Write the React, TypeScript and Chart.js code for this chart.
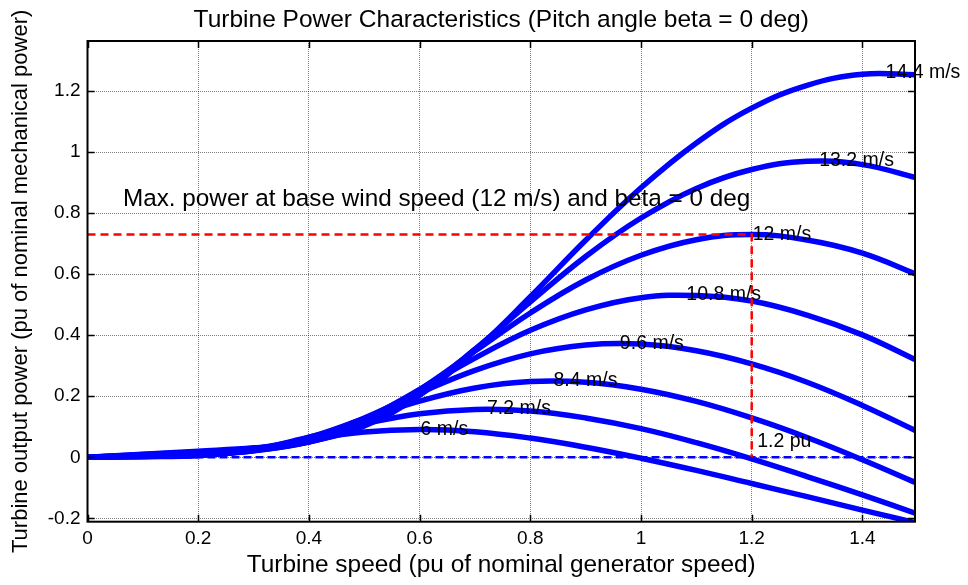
import React, { useEffect, useRef } from 'react';
import { Chart, registerables } from 'chart.js';

Chart.register(...registerables);

// Turbine speed (pu) sample points
const omega = [0, 0.1, 0.2, 0.3, 0.4, 0.5, 0.6, 0.7, 0.8, 0.9, 1.0, 1.1, 1.2, 1.3, 1.4, 1.5];

// Turbine output power (pu) per wind speed
const p6 = [0, 0.002, 0.006, 0.028, 0.059, 0.083, 0.091, 0.084, 0.063, 0.033, -0.003, -0.043, -0.086, -0.129, -0.173, -0.216];
const p7_2 = [0, 0.003, 0.006, 0.025, 0.066, 0.11, 0.143, 0.157, 0.152, 0.129, 0.094, 0.048, -0.005, -0.063, -0.123, -0.186];
const p8_4 = [0, 0.003, 0.008, 0.023, 0.065, 0.126, 0.184, 0.227, 0.248, 0.246, 0.223, 0.183, 0.129, 0.065, -0.008, -0.086];
const p9_6 = [0, 0.005, 0.009, 0.021, 0.06, 0.129, 0.211, 0.285, 0.339, 0.368, 0.371, 0.349, 0.306, 0.246, 0.17, 0.084];
const p10_8 = [0, 0.006, 0.011, 0.021, 0.055, 0.125, 0.222, 0.325, 0.416, 0.483, 0.523, 0.53, 0.512, 0.466, 0.401, 0.316];
const p12 = [0, 0.007, 0.014, 0.023, 0.051, 0.117, 0.222, 0.348, 0.473, 0.581, 0.662, 0.713, 0.73, 0.712, 0.669, 0.598];
const p13_2 = [0, 0.009, 0.017, 0.027, 0.05, 0.109, 0.214, 0.354, 0.509, 0.658, 0.784, 0.881, 0.943, 0.97, 0.959, 0.915];
const p14_4 = [0, 0.01, 0.02, 0.031, 0.051, 0.103, 0.203, 0.35, 0.526, 0.711, 0.883, 1.03, 1.144, 1.219, 1.255, 1.253];

const series = [p6, p7_2, p8_4, p9_6, p10_8, p12, p13_2, p14_4];
const speedLabels = ['6 m/s', '7.2 m/s', '8.4 m/s', '9.6 m/s', '10.8 m/s', '12 m/s', '13.2 m/s', '14.4 m/s'];
// label anchors (peak of each curve)
const labelX = [0.6, 0.72, 0.84, 0.96, 1.08, 1.2, 1.32, 1.44];
const labelY = [0.091, 0.158, 0.25, 0.374, 0.532, 0.73, 0.972, 1.261];

// Reference lines
const maxPowerX = [0, 1.2, 1.2];
const maxPowerY = [0.73, 0.73, 0];
const zeroX = [0, 1.5];
const zeroY = [0, 0];

// Axes
const xTicks = [0, 0.2, 0.4, 0.6, 0.8, 1.0, 1.2, 1.4];
const yTicks = [-0.2, 0, 0.2, 0.4, 0.6, 0.8, 1.0, 1.2];
const xMin = 0;
const xMax = 1.495;
const yMin = -0.211;
const yMax = 1.364;

const titleText = 'Turbine Power Characteristics (Pitch angle beta = 0 deg)';
const xTitle = 'Turbine speed (pu of nominal generator speed)';
const yTitle = 'Turbine output power (pu of nominal mechanical power)';
const maxText = 'Max. power at base wind speed (12 m/s) and beta = 0 deg';
const maxTextPos = [0.064, 0.845];
const puText = '1.2 pu';
const puTextPos = [1.21, 0.05];

const FONT = '"Liberation Sans", Arial, Helvetica, sans-serif';

const toPoints = (xs: number[], ys: number[]) => xs.map((x, i) => ({ x, y: ys[i] }));

const fmt = (v: number) => String(Math.round(v * 10) / 10);

const overlayPlugin = {
  id: 'matlabOverlay',
  afterDatasetsDraw(chart: any) {
    const { ctx, chartArea } = chart;
    const xs = chart.scales.x;
    const ys = chart.scales.y;
    const { left, right, top, bottom } = chartArea;
    ctx.save();
    // axes box
    ctx.strokeStyle = '#000';
    ctx.lineWidth = 2;
    ctx.setLineDash([]);
    ctx.strokeRect(left, top, right - left, bottom - top);
    // inward tick marks
    ctx.lineWidth = 1.5;
    const tl = 7;
    ctx.beginPath();
    xTicks.forEach((v) => {
      const px = Math.round(xs.getPixelForValue(v)) + 0.5;
      ctx.moveTo(px, top);
      ctx.lineTo(px, top + tl);
      ctx.moveTo(px, bottom);
      ctx.lineTo(px, bottom - tl);
    });
    yTicks.forEach((v) => {
      const py = Math.round(ys.getPixelForValue(v)) + 0.5;
      ctx.moveTo(left, py);
      ctx.lineTo(left + tl, py);
      ctx.moveTo(right, py);
      ctx.lineTo(right - tl, py);
    });
    ctx.stroke();

    // texts
    ctx.fillStyle = '#000';
    ctx.textAlign = 'left';
    ctx.textBaseline = 'middle';
    ctx.font = `19.5px ${FONT}`;
    speedLabels.forEach((t, i) => {
      ctx.fillText(t, xs.getPixelForValue(labelX[i]) + 1, ys.getPixelForValue(labelY[i]));
    });
    ctx.fillText(puText, xs.getPixelForValue(puTextPos[0]), ys.getPixelForValue(puTextPos[1]));
    ctx.font = `24.3px ${FONT}`;
    ctx.fillText(maxText, xs.getPixelForValue(maxTextPos[0]), ys.getPixelForValue(maxTextPos[1]));
    ctx.restore();
  },
};

export default function App() {
  const ref = useRef<HTMLCanvasElement>(null);

  useEffect(() => {
    const canvas = ref.current;
    if (!canvas) return;

    const curveSets = series.map((ys, i) => ({
      label: speedLabels[i],
      data: toPoints(omega, ys),
      borderColor: '#0000ff',
      borderWidth: 5.5,
      pointRadius: 0,
      tension: 0.4,
      fill: false,
      clip: 0,
      order: 2,
    }));

    const chart = new Chart(canvas, {
      type: 'line',
      data: {
        datasets: [
          {
            label: 'Max power',
            data: toPoints(maxPowerX, maxPowerY),
            borderColor: '#ff0000',
            borderWidth: 2.5,
            borderDash: [8, 5],
            pointRadius: 0,
            tension: 0,
            fill: false,
            clip: 0,
            order: 0,
          },
          {
            label: 'Zero',
            data: toPoints(zeroX, zeroY),
            borderColor: '#0000ff',
            borderWidth: 2.5,
            borderDash: [8, 4],
            pointRadius: 0,
            tension: 0,
            fill: false,
            clip: 0,
            order: 1,
          },
          ...curveSets,
        ],
      },
      options: {
        responsive: false,
        devicePixelRatio: 1,
        animation: false,
        events: [],
        layout: { padding: { top: 0, left: 0, right: 53, bottom: 0 } },
        plugins: {
          legend: { display: false },
          tooltip: { enabled: false },
          title: {
            display: true,
            text: titleText,
            fullSize: false,
            color: '#000',
            font: { family: FONT, size: 24.5, weight: 'normal', lineHeight: 1.2 },
            padding: { top: 5.1, bottom: 6.5 },
          },
        },
        scales: {
          x: {
            type: 'linear',
            min: xMin,
            max: xMax,
            afterBuildTicks: (scale: any) => {
              scale.ticks = xTicks.map((v) => ({ value: v }));
            },
            afterFit: (scale: any) => {
              scale.height = 63.3;
            },
            ticks: {
              color: '#000',
              font: { family: FONT, size: 19, lineHeight: 1.2 },
              padding: 5.4,
              maxRotation: 0,
              autoSkip: false,
              callback: (v: any) => fmt(Number(v)),
            },
            grid: { color: 'rgba(0,0,0,0.5)', lineWidth: 1, drawTicks: false },
            border: { display: false, dash: [1, 1] },
            title: {
              display: true,
              text: xTitle,
              color: '#000',
              font: { family: FONT, size: 24.4, lineHeight: 1.2 },
              padding: { top: 0, bottom: 5.5 },
            },
          },
          y: {
            type: 'linear',
            min: yMin,
            max: yMax,
            afterBuildTicks: (scale: any) => {
              scale.ticks = yTicks.map((v) => ({ value: v }));
            },
            afterFit: (scale: any) => {
              scale.width = 87.5;
            },
            ticks: {
              color: '#000',
              font: { family: FONT, size: 19, lineHeight: 1.2 },
              padding: 7,
              autoSkip: false,
              callback: (v: any) => fmt(Number(v)),
            },
            grid: { color: 'rgba(0,0,0,0.5)', lineWidth: 1, drawTicks: false },
            border: { display: false, dash: [1, 1] },
            title: {
              display: true,
              text: yTitle,
              color: '#000',
              font: { family: FONT, size: 22, lineHeight: 1.2 },
              padding: { top: 8.2, bottom: 0 },
            },
          },
        },
      } as any,
      plugins: [overlayPlugin],
    });

    return () => chart.destroy();
  }, []);

  return (
    <div style={{ position: 'fixed', left: 0, top: 0, width: 968, height: 585, background: '#fff' }}>
      <canvas ref={ref} width={968} height={585} style={{ display: 'block', width: 968, height: 585 }} />
    </div>
  );
}
